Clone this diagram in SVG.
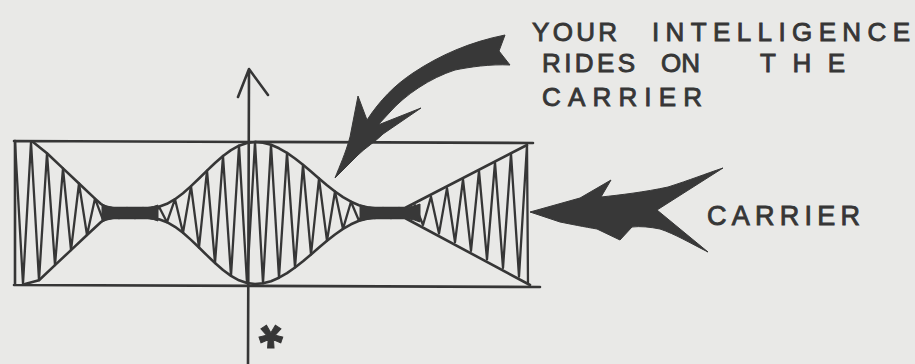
<svg xmlns="http://www.w3.org/2000/svg" width="915" height="364" viewBox="0 0 915 364">
<defs>
<style>
.ink{stroke:#363636;fill:none;stroke-linecap:round;stroke-linejoin:round}
.frame{stroke-width:2.6}
.wave{stroke-width:2.3}
.env{stroke-width:2.6}
.solid{fill:#383838;stroke:#383838;stroke-width:1;stroke-linejoin:round}
.lbl{font-family:"Liberation Sans","DejaVu Sans",sans-serif;fill:#363636;stroke:#363636;stroke-width:0.9}
</style>
</defs>
<rect x="0" y="0" width="915" height="364" fill="#e9e9e7"/>
<g id="signal">
<path class="ink frame" d="M14,141 L533,143 M14,285 L540,287 M15,141 L15,285"/>
<polyline class="ink wave" points="15,142 23,284 31,142 39,280.2 47,153.3 55,265.1 63,168.4 71,250.1 79,183.5 87,235 95,198.6 103,219.9 111,208 119,218 127,208 135,218 143,208 151,218 159,206.8 167,222.2 175,199.2 183,232.8 191,186.1 199,247.5 207,170.6 215,263 223,156 231,275.9 239,145.7 247,283 255,142 263,283.3 271,144.8 279,277.7 287,152.9 295,267.5 303,164.8 311,254.5 319,178.5 327,240.8 335,191.5 343,228.9 351,201.7 359,220.8 367,207.3 375,218 383,208 391,218 399,208 407,218 415,205.3 423,225 431,196.7 439,233.6 447,188.1 455,242.2 463,179.5 471,250.8 479,170.9 487,259.4 495,162.3 503,268 511,153.7 519,276.6 527,145 528,284"/>
<path class="ink env" d="M33,142 L47,153.3 L63,168.4 L79,183.5 L95,198.6 L101,204 Q106,208 113,208 L151,208 L159,206.8 L167,203.8 L175,199.2 L183,193.2 L191,186.1 L199,178.5 L207,170.6 L215,163 L223,156 L231,150.1 L239,145.7 L247,143 L255,142 L263,142.7 L271,144.8 L279,148.3 L287,152.9 L295,158.5 L303,164.8 L311,171.5 L319,178.5 L327,185.2 L335,191.5 L343,197.1 L351,201.7 L359,205.2 L367,207.3 L375,208 L405,208 L527,145"/>
<path class="ink env" d="M25,284 L39,280.2 L55,265.1 L71,250.1 L87,235 L101,222 Q106,218 113,218 L151,218 L159,219.2 L167,222.2 L175,226.8 L183,232.8 L191,239.9 L199,247.5 L207,255.4 L215,263 L223,270 L231,275.9 L239,280.3 L247,283 L255,284 L263,283.3 L271,281.2 L279,277.7 L287,273.1 L295,267.5 L303,261.2 L311,254.5 L319,247.5 L327,240.8 L335,234.5 L343,228.9 L351,224.3 L359,220.8 L367,218.7 L375,218 L405,218 L530,285"/>
<path class="solid" d="M102,204 Q110,208.5 130,208.5 Q150,208.5 158,205 L158,221 Q150,217.5 130,217.5 Q110,217.5 102,222 Z"/>
<path class="solid" d="M360,205 Q370,208.5 390,208.5 Q410,208.5 420,204 L420,222 Q410,217.5 390,217.5 Q370,217.5 360,221 Z"/>
</g>
<g id="axis">
<path class="ink frame" d="M249,69 L248,364 M238,97 L249,69 L268,95"/>
<text class="lbl" x="271" y="376.3" font-size="62" font-weight="bold" text-anchor="middle" font-family="DejaVu Sans, sans-serif" transform="rotate(180 271 341)">*</text>
</g>
<g id="connectors">
<path id="arrow-intelligence" class="solid" d="M505,35 L499,51 L510,65 C490,64 470,67 455,70 C430,78 405,95 390,112 L378,125 L421,108 L383,134 C375,142 365,148 358,155 L335,178 C340,165 345,155 350,137 L358,96 L367,120 C380,100 395,85 413,73 C440,55 470,42 505,35 Z"/>
<path id="arrow-carrier" class="solid" d="M530,212 L580,198 L611,180 L601,197 C620,195 645,192 668,187 C690,180 705,174 723,168 L657,210 L708,252 C690,243 675,234 660,229 C650,227 640,226 632,227 L620,240 L597,229 C585,227 570,224 560,222 Z"/>
</g>
<g id="label-intelligence">
<text class="lbl" font-size="26" y="41"><tspan x="532" textLength="85" lengthAdjust="spacing">YOUR</tspan><tspan x="652" textLength="258" lengthAdjust="spacing">INTELLIGENCE</tspan></text>
<text class="lbl" font-size="26" y="72"><tspan x="542" textLength="93" lengthAdjust="spacing">RIDES</tspan><tspan x="661">ON</tspan><tspan x="760" textLength="85" lengthAdjust="spacing">THE</tspan></text>
<text class="lbl" font-size="26" y="106" x="542" textLength="160" lengthAdjust="spacing">CARRIER</text>
</g>
<g id="label-carrier">
<text class="lbl" font-size="27" y="225" x="707" textLength="153" lengthAdjust="spacing">CARRIER</text>
</g>
</svg>
